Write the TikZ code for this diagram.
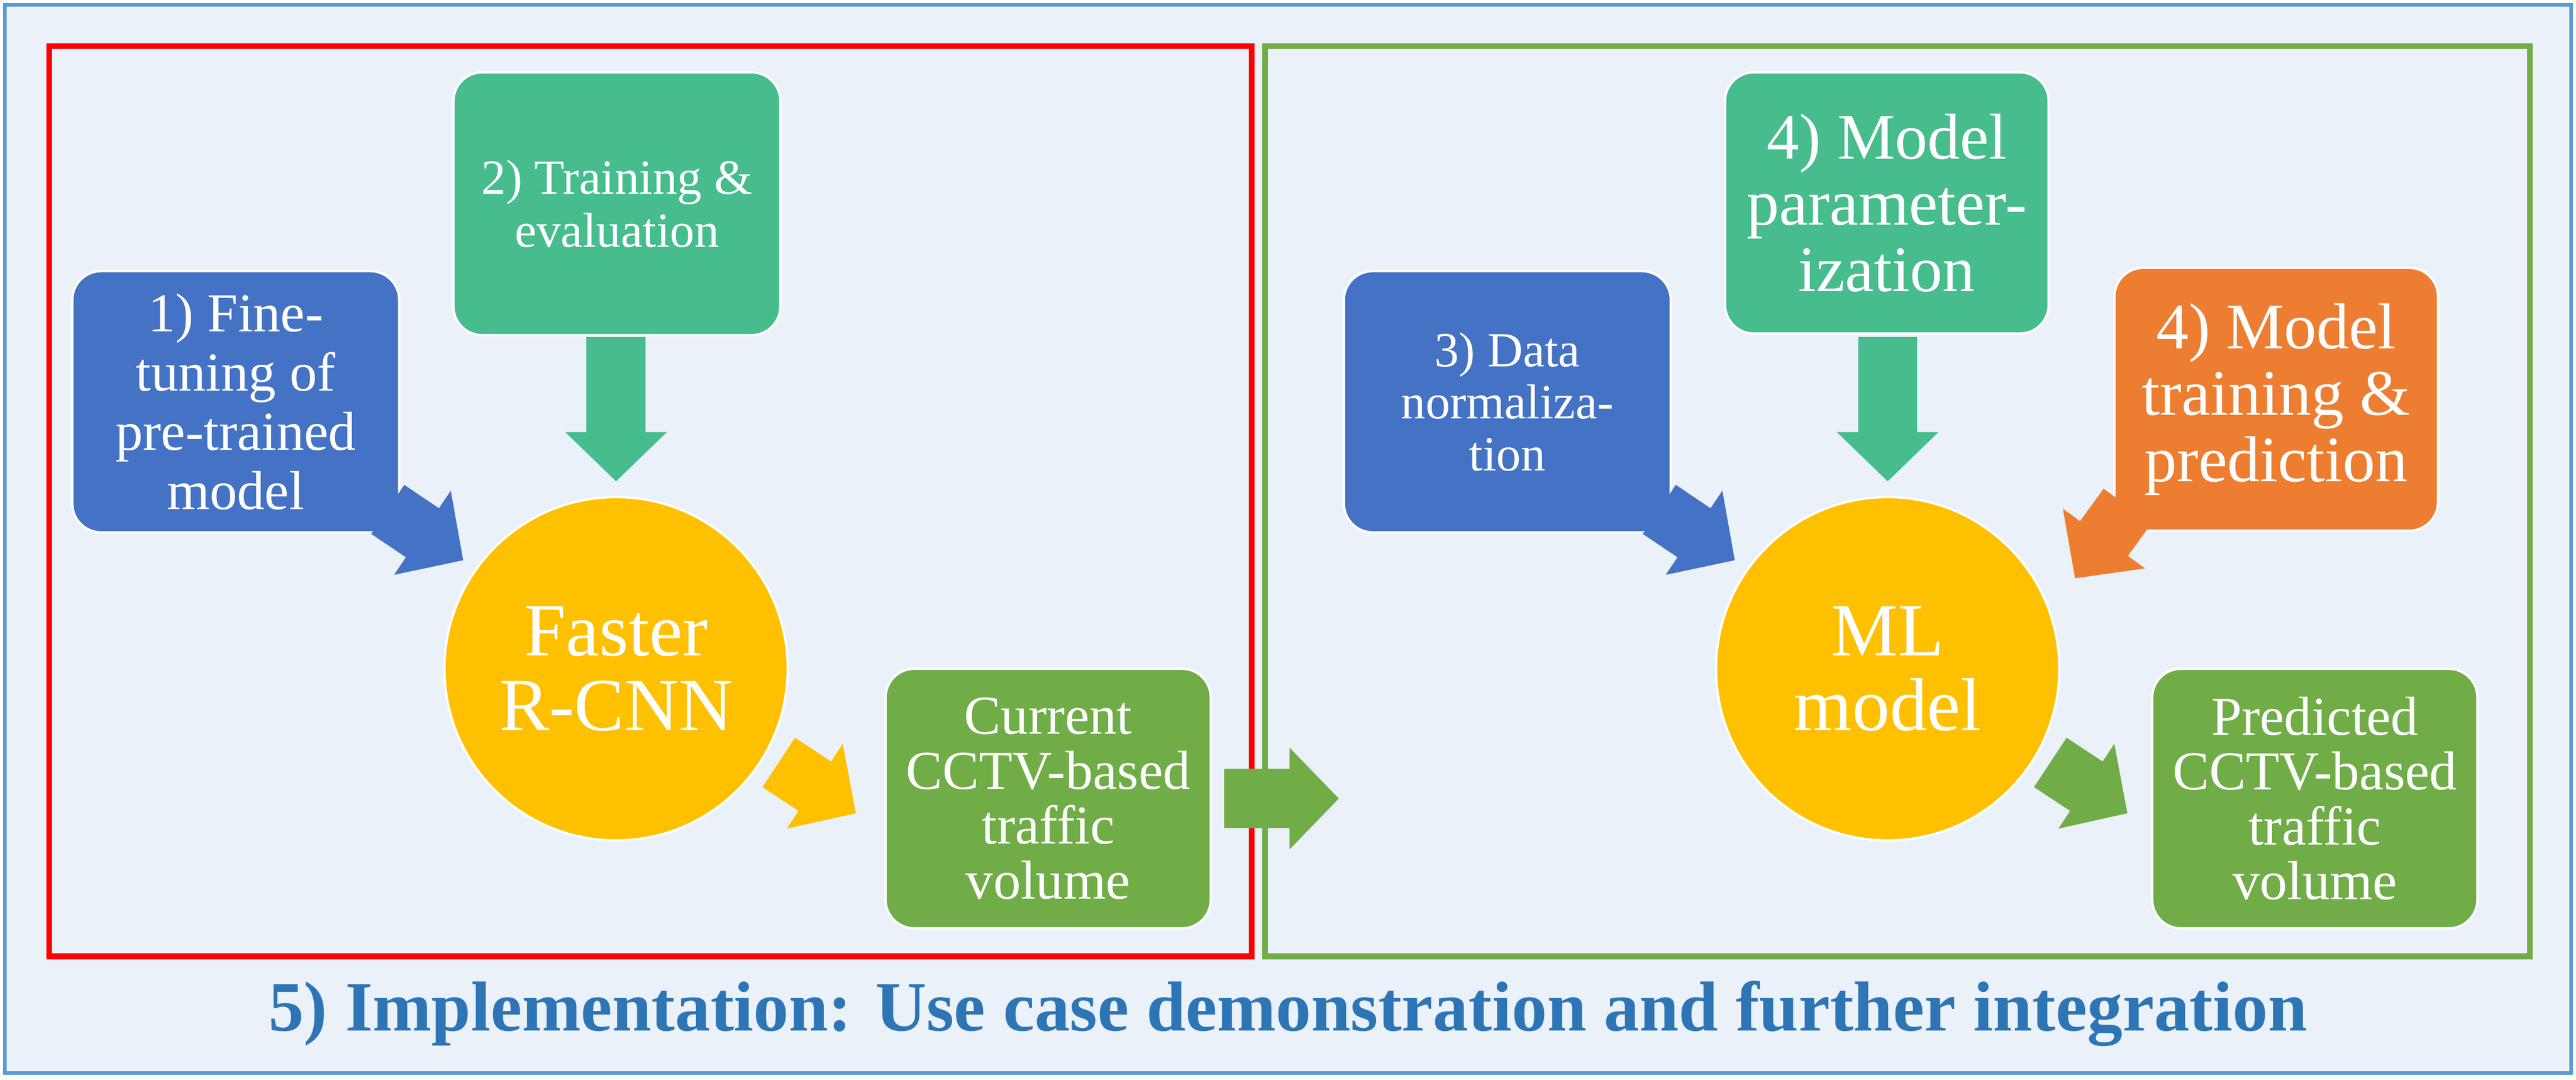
\documentclass[tikz,border=0pt]{standalone}
\usepackage{fontspec}
\setmainfont{Liberation Serif}
\usetikzlibrary{arrows.meta}
\definecolor{bblue}{HTML}{4472C4}
\definecolor{tteal}{HTML}{47BC8D}
\definecolor{ggreen}{HTML}{70AD47}
\definecolor{oorange}{HTML}{ED7D31}
\definecolor{yyellow}{HTML}{FFC000}
\definecolor{frame}{HTML}{5B9BD5}
\definecolor{bg}{HTML}{EAF1F9}
\definecolor{ttl}{HTML}{2E75B6}
\begin{document}
\begin{tikzpicture}[x=0.02cm,y=-0.02cm,
 box/.style={draw=white,line width=0.8pt,rounded corners=0.35cm,text=white,align=center,inner sep=0pt},
 circ/.style={circle,fill=yyellow,draw=white,line width=0.8pt,text=white,align=center,minimum size=4.18cm,inner sep=0pt},
 barrow/.style={line width=0.72cm,-{Triangle[length=0.6cm,width=1.2cm]}}]
\useasboundingbox (0,0) rectangle (1568,657);
\draw[frame,fill=bg,line width=1.2pt] (3,3) rectangle (1565,653);
\draw[red,line width=2pt] (30,28) rectangle (762,582);
\draw[ggreen,line width=2pt] (770,28) rectangle (1540,582);
% left
\node[box,fill=bblue,font=\fontsize{19}{20.5}\selectfont,minimum width=3.98cm,minimum height=3.18cm] (b1) at (143.5,244.5) {1) Fine-\\tuning of\\pre-trained\\model};
\node[box,fill=tteal,font=\fontsize{17}{18.5}\selectfont,minimum width=3.98cm,minimum height=3.2cm] (b2) at (375.5,124) {2) Training \&\\evaluation};
\node[circ,font=\fontsize{26}{26}\selectfont] (c1) at (375,407) {Faster\\R-CNN};
\node[box,fill=ggreen,font=\fontsize{19}{19}\selectfont,minimum width=3.96cm,minimum height=3.16cm] (b5) at (638,486) {Current\\CCTV-based\\traffic\\volume};
\coordinate (a1s) at (236,310); \coordinate (a1e) at (282,341);
\coordinate (a2s) at (375,205); \coordinate (a2e) at (375,293);
\coordinate (a3s) at (474,464); \coordinate (a3e) at (521,495);
\coordinate (a4s) at (745,486); \coordinate (a4e) at (815,486);
\draw[barrow,bblue] (a1s) -- (a1e);
\draw[barrow,tteal] (a2s) -- (a2e);
\draw[barrow,yyellow] (a3s) -- (a3e);
\draw[barrow,ggreen] (a4s) -- (a4e);
% right
\node[box,fill=bblue,font=\fontsize{17}{18}\selectfont,minimum width=3.98cm,minimum height=3.18cm] (b3) at (917.5,244.5) {3) Data\\normaliza-\\tion};
\node[box,fill=tteal,font=\fontsize{22.5}{23}\selectfont,minimum width=3.94cm,minimum height=3.18cm] (b4) at (1148.5,123.5) {4) Model\\parameter-\\ization};
\node[box,fill=oorange,font=\fontsize{22.5}{23}\selectfont,minimum width=3.94cm,minimum height=3.2cm] (b6) at (1385.5,243) {4) Model\\training \&\\prediction};
\node[circ,font=\fontsize{26}{26}\selectfont] (c2) at (1149,407) {ML\\model};
\node[box,fill=ggreen,font=\fontsize{19}{19}\selectfont,minimum width=3.96cm,minimum height=3.16cm] (b7) at (1409,486) {Predicted\\CCTV-based\\traffic\\volume};
\coordinate (a5s) at (1010,310); \coordinate (a5e) at (1056,341);
\coordinate (a6s) at (1149,205); \coordinate (a6e) at (1149,293);
\coordinate (a7s) at (1295,308); \coordinate (a7e) at (1263,352);
\coordinate (a8s) at (1248,464); \coordinate (a8e) at (1295,495);
\draw[barrow,bblue] (a5s) -- (a5e);
\draw[barrow,tteal] (a6s) -- (a6e);
\draw[barrow,oorange] (a7s) -- (a7e);
\draw[barrow,ggreen] (a8s) -- (a8e);
\node[text=ttl,font=\fontsize{24.5}{28}\selectfont\bfseries] (t) at (784,617) {5) Implementation: Use case demonstration and further integration};
\end{tikzpicture}
\end{document}
